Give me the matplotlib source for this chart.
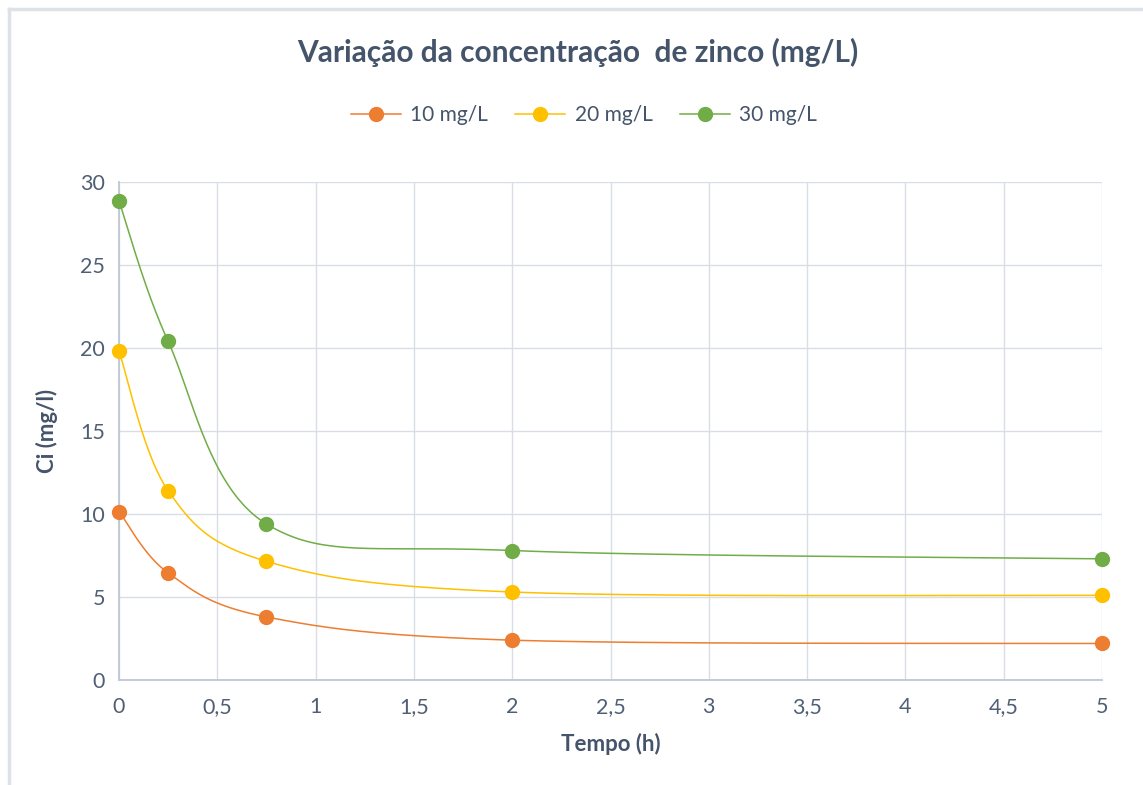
import numpy as np
import matplotlib
matplotlib.use("Agg")
import matplotlib.pyplot as plt
from matplotlib.lines import Line2D
from matplotlib.ticker import FuncFormatter

# ---- data ----
tempo = [0, 0.25, 0.75, 2, 5]
serie_labels = ["10 mg/L", "20 mg/L", "30 mg/L"]
c10 = [10.15, 6.45, 3.8, 2.4, 2.2]
c20 = [19.8, 11.4, 7.15, 5.3, 5.1]
c30 = [28.85, 20.4, 9.4, 7.8, 7.3]
series = [c10, c20, c30]
colors = ["#ED7D31", "#FFC000", "#70AD47"]
xticks = [0, 0.5, 1, 1.5, 2, 2.5, 3, 3.5, 4, 4.5, 5]
yticks = [0, 5, 10, 15, 20, 25, 30]

text_color = "#44546A"
grid_color = "#D9DEE6"
plt.rcParams['font.family'] = ['Lato', 'DejaVu Sans']


def smooth(x, y, n=40):
    # Excel-style smoothing: cubic Bezier with Catmull-Rom control points
    x = np.asarray(x, float)
    y = np.asarray(y, float)
    P = np.column_stack([x, y])
    out = [P[0]]
    m = len(P)
    for i in range(m - 1):
        p0 = P[i - 1] if i > 0 else P[i]
        p1 = P[i]
        p2 = P[i + 1]
        p3 = P[i + 2] if i + 2 < m else P[i + 1]
        b1 = p1 + (p2 - p0) / 6.0
        b2 = p2 - (p3 - p1) / 6.0
        t = np.linspace(0, 1, n)[1:, None]
        seg = ((1 - t) ** 3) * p1 + 3 * ((1 - t) ** 2) * t * b1 + 3 * (1 - t) * t ** 2 * b2 + t ** 3 * p2
        out.extend(seg)
    out = np.array(out)
    return out[:, 0], out[:, 1]


fig = plt.figure(figsize=(11.43, 7.85), dpi=100)
ax = fig.add_axes([119 / 1143, 1 - 680 / 785, (1102 - 119) / 1143, (680 - 182) / 785])

for vals, col in zip(series, colors):
    sx, sy = smooth(tempo, vals)
    ax.plot(sx, sy, color=col, lw=1.1, zorder=3)
    ax.plot(tempo, vals, 'o', color=col, ms=10, zorder=4, clip_on=False)

ax.set_xlim(0, 5)
ax.set_ylim(0, 30)
ax.set_xticks(xticks)
ax.set_yticks(yticks)
fmt = FuncFormatter(lambda v, p: (f"{v:g}").replace(".", ","))
ax.xaxis.set_major_formatter(fmt)
ax.yaxis.set_major_formatter(fmt)
ax.grid(True, color=grid_color, lw=1)
ax.set_axisbelow(True)
for s in ["top", "right"]:
    ax.spines[s].set_visible(False)
for s in ["left", "bottom"]:
    ax.spines[s].set_color("#BFC7D5")
    ax.spines[s].set_linewidth(1.3)
ax.tick_params(length=0, labelsize=15.5, labelcolor="#505F75", pad=10)
ax.tick_params(axis='x', pad=12)

ax.set_xlabel("Tempo (h)", fontsize=16, fontweight='bold', color=text_color, labelpad=12)
ax.set_ylabel("Ci (mg/l)", fontsize=16, fontweight='bold', color=text_color, labelpad=16)

fig.text(578 / 1143, 1 - 52 / 785, "Variação da concentração  de zinco (mg/L)", ha='center', va='center',
         fontsize=21.5, fontweight='bold', color=text_color)

handles = [Line2D([0], [0], color=c, lw=1.1, marker='o', ms=10) for c in colors]
fig.legend(handles, serie_labels, loc='center', bbox_to_anchor=(584 / 1143, 1 - 115 / 785), ncol=3,
           frameon=False, fontsize=15, labelcolor=text_color, handlelength=2.4, columnspacing=1.3,
           handletextpad=0.45)

# chart border (top and left visible)
fig.add_artist(Line2D([9 / 1143, 9 / 1143], [0, 1 - 9 / 785], transform=fig.transFigure, color="#DDE1E8", lw=2.5))
fig.add_artist(Line2D([9 / 1143, 1], [1 - 9 / 785, 1 - 9 / 785], transform=fig.transFigure, color="#DDE1E8", lw=2.5))

fig.savefig("out.png", dpi=100)
